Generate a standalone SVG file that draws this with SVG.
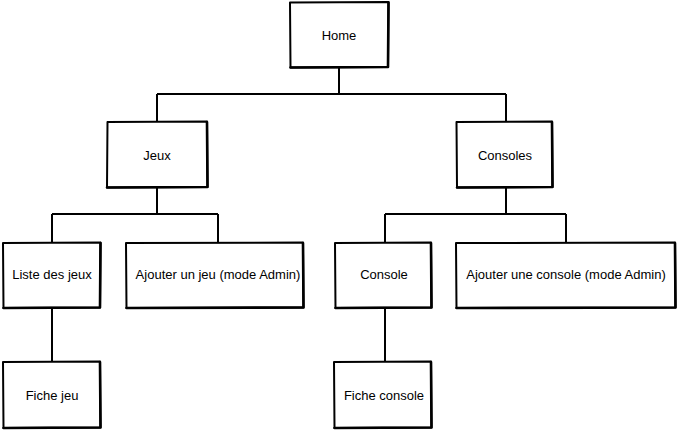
<svg xmlns="http://www.w3.org/2000/svg" width="678" height="430" viewBox="0 0 678 430">
<style>
.box{fill:#fff;stroke:#000;stroke-width:2;stroke-linejoin:round}
.edge{fill:none;stroke:#000;stroke-width:2.6;stroke-linecap:round}
.c{fill:none;stroke:#000;stroke-width:2}
text{font-family:"Liberation Sans",Arial,sans-serif;font-size:13px;fill:#000;text-anchor:middle;dominant-baseline:central}
</style>
<rect width="678" height="430" fill="#fff"/>
<g id="connectors">
<path class="c" d="M339 67V94M157 94H506M157 94V122M506 94V122"/>
<path class="c" d="M157 187V214M52 214H218M52 214V243M218 214V243"/>
<path class="c" d="M506 187V214M385 214H566M385 214V243M566 214V243"/>
<path class="c" d="M52 308V362M385 308V362"/>
</g>
<g id="home">
<path class="box" d="M290 2.5L388.5 2L388 67L290.5 67.5Z"/>
<path class="edge" d="M388.5 2.5L388 67M290.5 67.5L388 67"/>
<text x="339" y="35">Home</text>
</g>
<g id="jeux">
<path class="box" d="M107.5 122L207 121.5L207.5 187L107 187.5Z"/>
<path class="edge" d="M207 122L207.5 187M107 187.5L207.5 187"/>
<text x="157" y="155">Jeux</text>
</g>
<g id="consoles">
<path class="box" d="M456.5 122L552 121.5L552.5 187L457 187.5Z"/>
<path class="edge" d="M552 122L552.5 187M457 187.5L552.5 187"/>
<text x="505" y="155">Consoles</text>
</g>
<g id="liste-jeux">
<path class="box" d="M3 243L100.5 242.5L100 307.5L3.5 308Z"/>
<path class="edge" d="M100.5 243L100 307.5M3.5 308L100 307.5"/>
<text x="52" y="274">Liste des jeux</text>
</g>
<g id="ajouter-jeu">
<path class="box" d="M126 243L303 242.5L303.5 307.5L126.5 308Z"/>
<path class="edge" d="M303 243L303.5 307.5M126.5 308L303.5 307.5"/>
<text x="218" y="274">Ajouter un jeu (mode Admin)</text>
</g>
<g id="console">
<path class="box" d="M335 243L431 242.5L431.5 307.5L335.5 308Z"/>
<path class="edge" d="M431 243L431.5 307.5M335.5 308L431.5 307.5"/>
<text x="384" y="274">Console</text>
</g>
<g id="ajouter-console">
<path class="box" d="M456 243L675 242.5L675.5 307.5L456.5 308Z"/>
<path class="edge" d="M675 243L675.5 307.5M456.5 308L675.5 307.5"/>
<text x="566" y="274">Ajouter une console (mode Admin)</text>
</g>
<g id="fiche-jeu">
<path class="box" d="M3 362L100 361.5L100.5 427.5L3.5 428Z"/>
<path class="edge" d="M100 362L100.5 427.5M3.5 428L100.5 427.5"/>
<text x="52" y="395">Fiche jeu</text>
</g>
<g id="fiche-console">
<path class="box" d="M334 362L431 361.5L431.5 427.5L334.5 428Z"/>
<path class="edge" d="M431 362L431.5 427.5M334.5 428L431.5 427.5"/>
<text x="384" y="395">Fiche console</text>
</g>
</svg>
